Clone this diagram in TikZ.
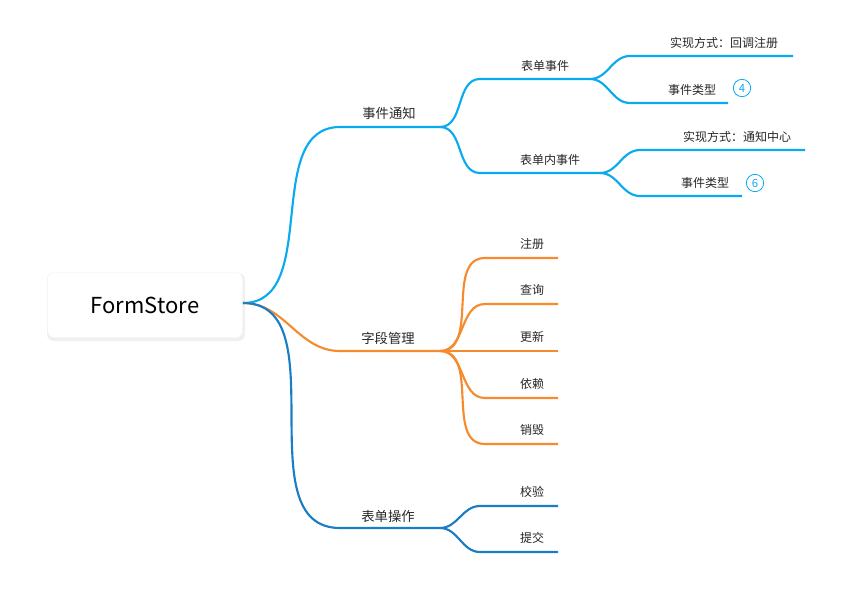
\documentclass[tikz,border=0pt]{standalone}
\usepackage{fontspec}
\setmainfont{Noto Sans CJK SC}
\begin{document}
\begin{tikzpicture}[x=0.75pt,y=-0.75pt,
  e1/.style={draw=cA,line width=1.6pt},
  e2/.style={draw=cB,line width=1.6pt},
  e3/.style={draw=cC,line width=1.6pt},
  lab/.style={font=\fontsize{10}{12}\selectfont,inner sep=1pt,text=black!85},
  sub/.style={font=\fontsize{9}{11}\selectfont,inner sep=1pt,text=black!85},
  num/.style={circle,draw=cA,line width=0.6pt,inner sep=0pt,minimum size=13pt,text=cA,font=\fontsize{8.5}{10}\selectfont}]
\definecolor{cA}{HTML}{0AAAF0}
\definecolor{cB}{HTML}{F68B2E}
\definecolor{cC}{HTML}{1A7EC5}
\useasboundingbox (0,0) rectangle (857,596);
\fill[black!6,rounded corners=5pt] (47,273) rectangle (245,341);
\node[draw=black!4,fill=white,rounded corners=5pt,minimum width=146pt,minimum height=49pt,font=\fontsize{16.5}{20}\selectfont] (root) at (145,305) {FormStore};
\coordinate (r) at (243,303);
% branch 1
\coordinate (a0) at (340,127); \coordinate (a1) at (440,127);
\draw[e1] (r) to[out=0,in=180] (a0) -- (a1);
\node[lab] (la) at (389,113) {事件通知};
\coordinate (b0) at (480,79); \coordinate (b1) at (590,79);
\coordinate (c0) at (480,173); \coordinate (c1) at (600,173);
\draw[e1] (a1) to[out=0,in=180] (b0) -- (b1);
\draw[e1] (a1) to[out=0,in=180] (c0) -- (c1);
\node[sub] (lb) at (545,66) {表单事件};
\node[sub] (lc) at (550,160) {表单内事件};
\coordinate (d0) at (630,56); \coordinate (d1) at (793,56);
\coordinate (e0) at (630,103); \coordinate (e1p) at (728,103);
\draw[e1] (b1) to[out=0,in=180] (d0) -- (d1);
\draw[e1] (b1) to[out=0,in=180] (e0) -- (e1p);
\node[sub] (ld) at (724,43) {实现方式：回调注册};
\node[sub] (le) at (692,90) {事件类型};
\node[num] (n4) at (742,88) {4};
\coordinate (f0) at (640,150); \coordinate (f1) at (805,150);
\coordinate (g0) at (640,196); \coordinate (g1) at (742,196);
\draw[e1] (c1) to[out=0,in=180] (f0) -- (f1);
\draw[e1] (c1) to[out=0,in=180] (g0) -- (g1);
\node[sub] (lf) at (737,137) {实现方式：通知中心};
\node[sub] (lg) at (705,183) {事件类型};
\node[num] (n6) at (755,183) {6};
% branch 2
\coordinate (h0) at (340,351); \coordinate (h1) at (440,351);
\draw[e2] (r) to[out=0,in=180] (h0) -- (h1);
\node[lab] (lh) at (388,338) {字段管理};
\foreach \y/\t/\n in {258/注册/p1,304/查询/p2,351/更新/p3,398/依赖/p4,444/销毁/p5}{
  \coordinate (\n a) at (485,\y); \coordinate (\n b) at (558,\y);
  \draw[e2] (h1) to[out=0,in=180] (\n a) -- (\n b);
  \node[sub] (\n) at (532,\y-14) {\t};
}
% branch 3
\coordinate (k0) at (340,528); \coordinate (k1) at (440,528);
\draw[e3] (r) to[out=0,in=180] (k0) -- (k1);
\node[lab] (lk) at (388,516) {表单操作};
\foreach \y/\t/\n in {506/校验/q1,552/提交/q2}{
  \coordinate (\n a) at (480,\y); \coordinate (\n b) at (558,\y);
  \draw[e3] (k1) to[out=0,in=180] (\n a) -- (\n b);
  \node[sub] (\n) at (532,\y-14) {\t};
}
\end{tikzpicture}
\end{document}
